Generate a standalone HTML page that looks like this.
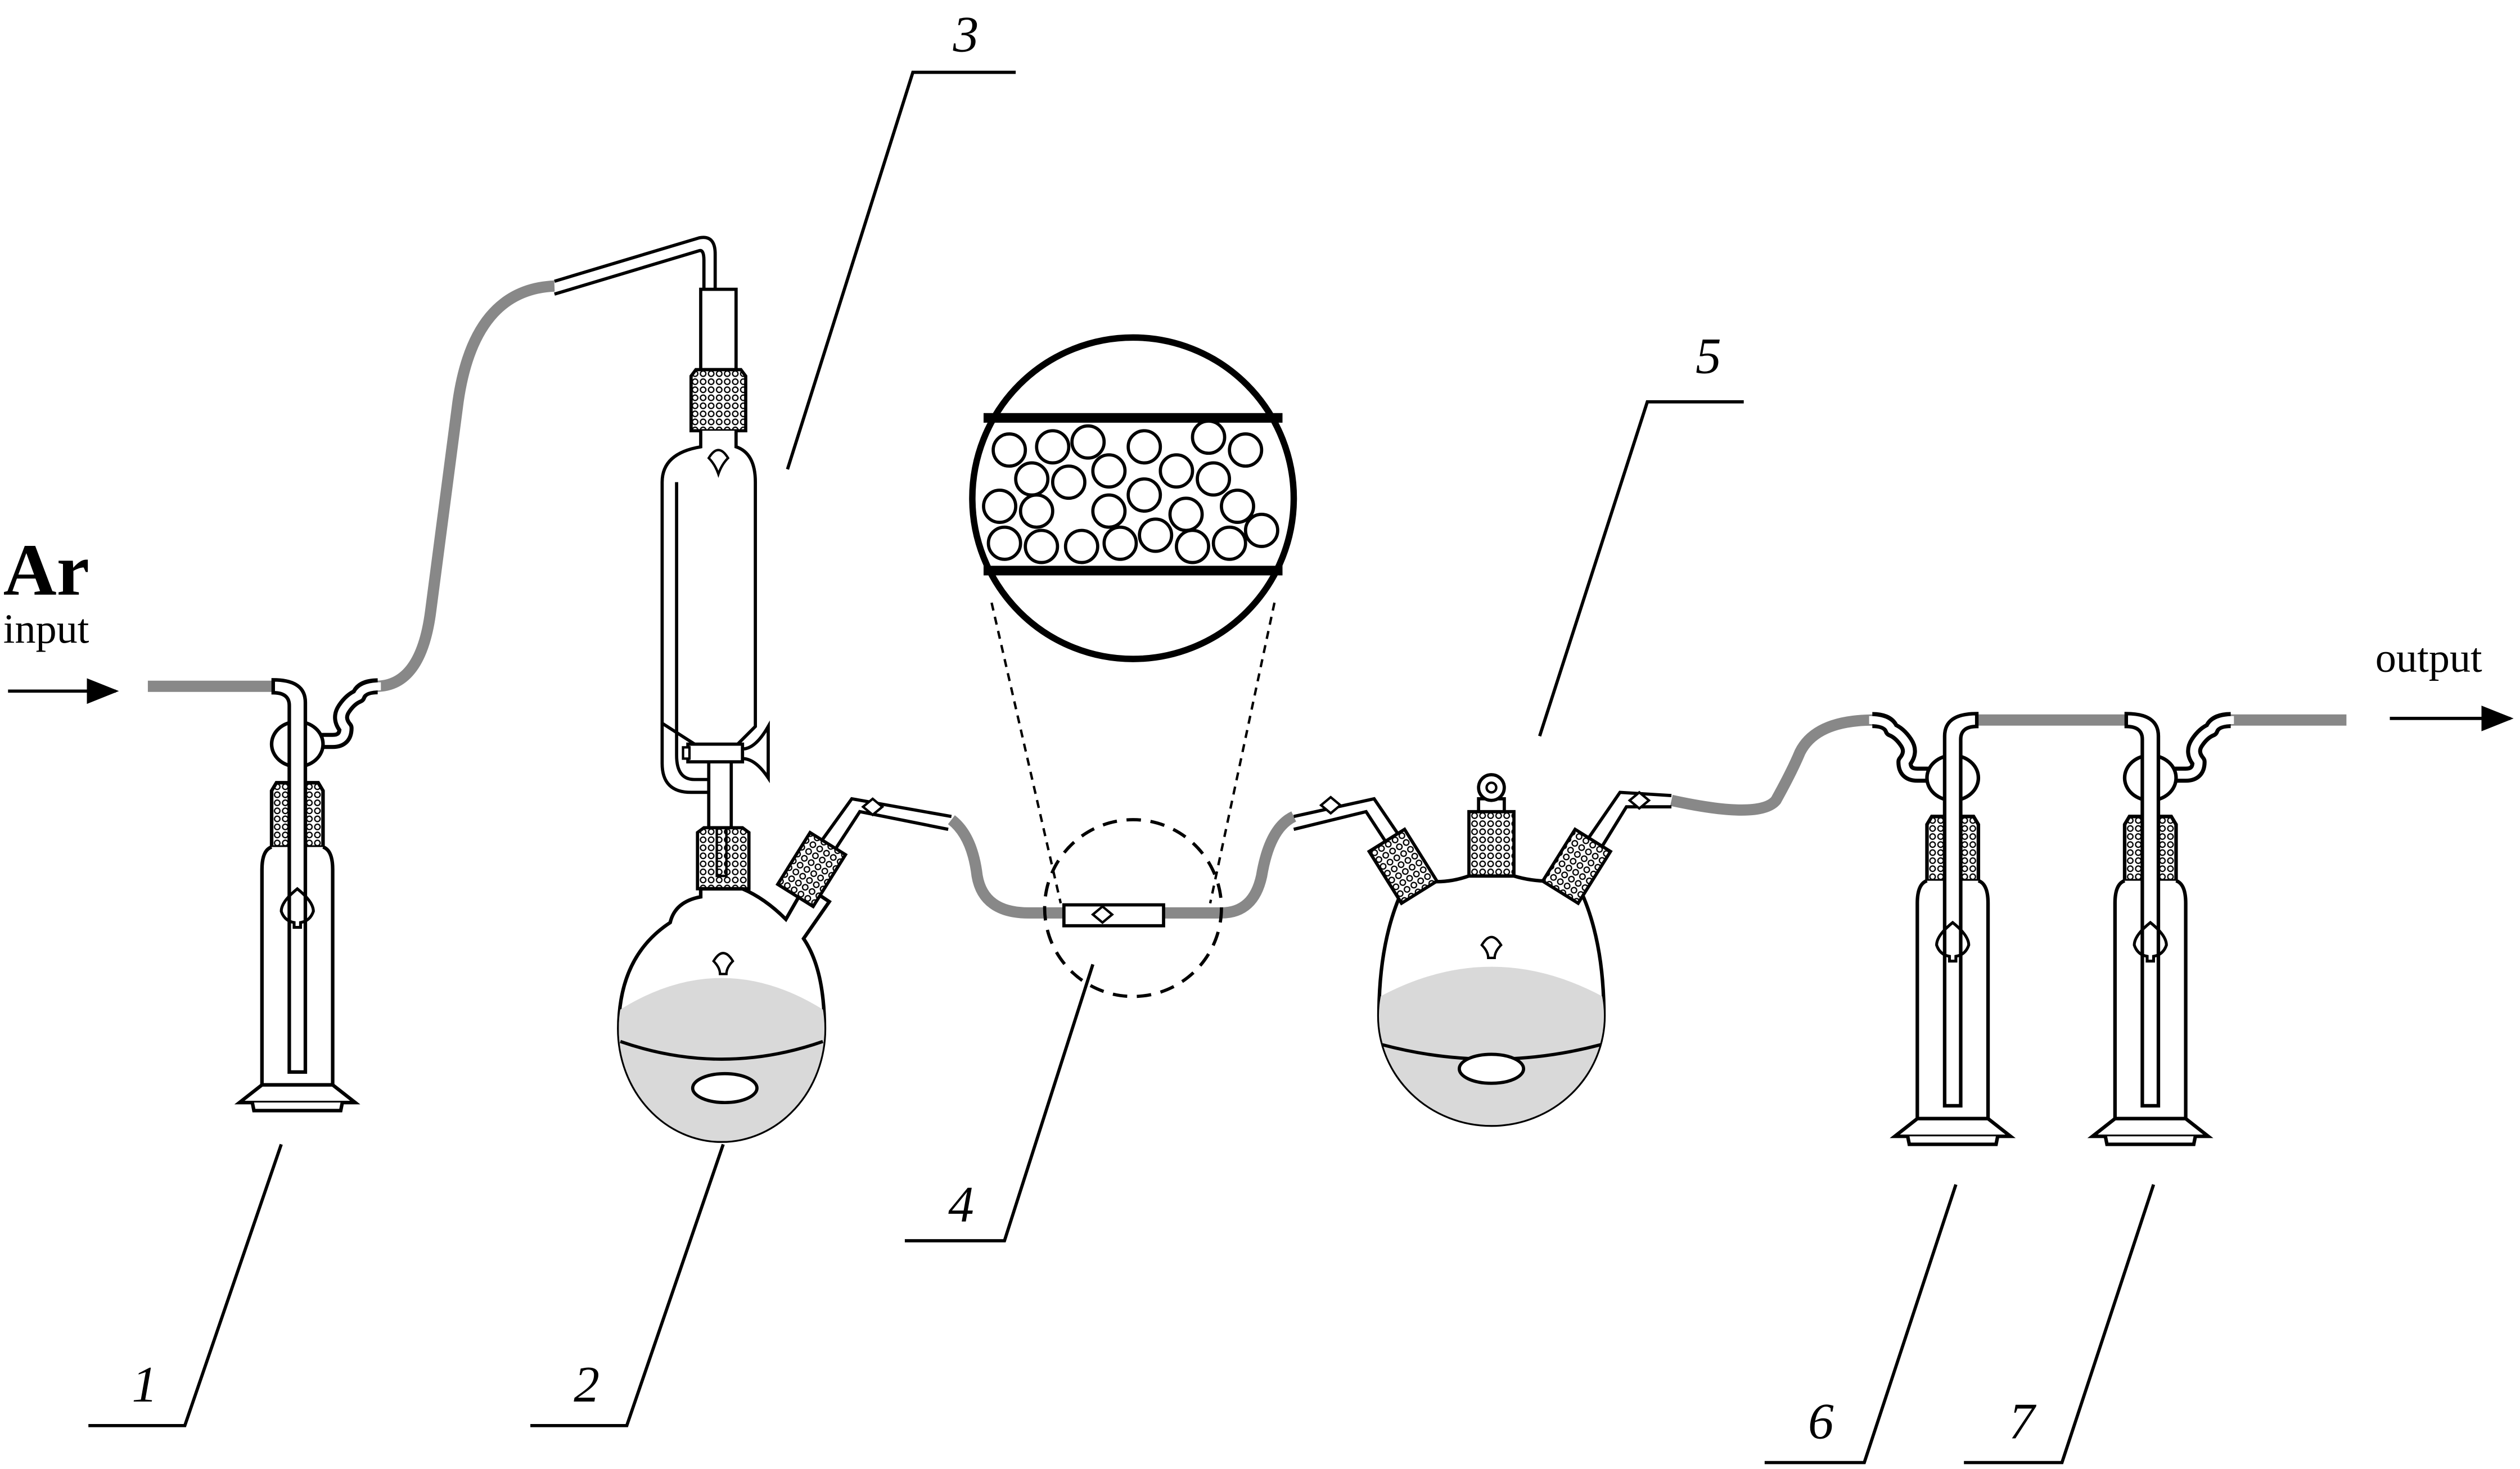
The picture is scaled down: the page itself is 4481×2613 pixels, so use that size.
<!DOCTYPE html>
<html><head><meta charset="utf-8"><style>
html,body{margin:0;padding:0;background:#fff;}
svg{display:block;width:4481px;height:2613px;}
text{font-family:"Liberation Serif",serif;}
</style></head><body>
<svg viewBox="0 0 1568 914" preserveAspectRatio="none" xmlns="http://www.w3.org/2000/svg">
<defs>
<pattern id="mesh" width="5" height="5" patternUnits="userSpaceOnUse"><rect width="5" height="5" fill="#fff"/><circle cx="2.5" cy="2.5" r="1.7" fill="none" stroke="#000" stroke-width="0.8"/></pattern>
<marker id="ar" markerWidth="10" markerHeight="8" refX="9" refY="4" orient="auto"><path d="M0,0 L10,4 L0,8 Z" fill="#000"/></marker>
<g id="bub">
 <!-- side arm (glass tube) -->
 <path d="M8,34 L22,34 Q30,34 30,26 Q25,20 29,14 Q33,8 38,6 Q40,0 50,0" fill="none" stroke="#000" stroke-width="10" stroke-linejoin="round"/>
 <path d="M8,34 L22,34 Q30,34 30,26 Q25,20 29,14 Q33,8 38,6 Q40,0 52,0" fill="none" stroke="#fff" stroke-width="5" stroke-linejoin="round"/>
 <!-- bulb -->
 <ellipse cx="0" cy="36" rx="16" ry="14" fill="#fff" stroke="#000" stroke-width="2.2"/>
 <!-- stopper -->
 <path d="M-13,60 L13,60 L16,65 L16,100 L-16,100 L-16,65 Z" fill="url(#mesh)" stroke="#000" stroke-width="2.2"/>
 <!-- body -->
 <path d="M-16,100 Q-22,102 -22,114 L-22,248 L22,248 L22,114 Q22,102 16,100" fill="#fff" stroke="#000" stroke-width="2.2"/>
 <path d="M-22,248 L22,248 L36,259 L-36,259 Z" fill="#fff" stroke="#000" stroke-width="2.2"/>
 <path d="M-28,259 L-27,264 L27,264 L28,259" fill="#fff" stroke="#000" stroke-width="2.2"/>
 <!-- inlet tube -->
 <path d="M-5,240 L-5,12 Q-5,4 -15,4 L-15,-4 Q5,-4 5,10 L5,240 Z" fill="#fff" stroke="#000" stroke-width="2.2"/>
 <!-- marker -->
 <path d="M-10,140 Q-10,134 0,126 Q10,134 10,140 Q8,146 2,147 L2,150 L-2,150 L-2,147 Q-8,146 -10,140 Z" fill="none" stroke="#000" stroke-width="1.8"/>
</g>
<clipPath id="f2"><path d="M385,640 A64,70 0 0 0 513,640 A64,70 0 0 0 385,640 Z"/></clipPath>
<clipPath id="f5"><path d="M858,632 A70,68 0 0 0 998,632 A70,68 0 0 0 858,632 Z"/></clipPath>
</defs>
<rect width="1568" height="914" fill="#fff"/>

<!-- Ar input -->
<text x="2" y="370" font-size="46" font-weight="bold">Ar</text>
<text x="2" y="400" font-size="26">input</text>
<line x1="5" y1="430" x2="72" y2="430" stroke="#000" stroke-width="2" marker-end="url(#ar)"/>
<text x="1478" y="418" font-size="26">output</text>
<line x1="1487" y1="447" x2="1562" y2="447" stroke="#000" stroke-width="2" marker-end="url(#ar)"/>

<!-- gray tubing -->
<g fill="none" stroke="#888" stroke-width="7">
 <path d="M92,427 L171,427"/>
 <path d="M234,427 Q262,427 268,380 L285,250 Q295,180 345,178"/>
 <path d="M592,510 Q605,520 608,545 Q612,568 640,568 L760,568 Q780,568 785,545 Q790,515 805,508"/>
 <path d="M1040,498 Q1095,510 1105,498 Q1115,480 1120,468 Q1130,448 1166,448"/>
 <path d="M1229,448 L1324,448"/>
 <path d="M1387,448 L1460,448"/>
</g>

<!-- bubblers -->
<use href="#bub" transform="translate(185,427)"/>
<use href="#bub" transform="translate(1215,448) scale(-1,1)"/>
<use href="#bub" transform="translate(1338,448)"/>

<!-- glass tube to funnel -->
<path d="M345,175 L435,148 Q445,146 445,158 L445,180 M345,183 L435,156 Q438,155 438,162 L438,180" fill="none" stroke="#000" stroke-width="2"/>
<!-- funnel 3 -->
<rect x="436" y="180" width="22" height="50" fill="#fff" stroke="#000" stroke-width="2"/>
<path d="M433,230 L461,230 L464,234 L464,268 L430,268 L430,234 Z" fill="url(#mesh)" stroke="#000" stroke-width="2"/>
<path d="M436,268 L436,278 Q412,282 412,300 L412,450 L440,468 L454,468 L470,452 L470,300 Q470,282 458,278 L458,268" fill="#fff" stroke="#000" stroke-width="2"/>
<path d="M421,300 L421,470 Q421,485 432,485 L441,485 M412,450 L412,475 Q412,493 430,493 L441,493" fill="none" stroke="#000" stroke-width="2"/>
<path d="M441,285 Q447,275 453,285 Q449,289 447,295 Q445,289 441,285 Z" fill="#fff" stroke="#000" stroke-width="1.5"/>
<rect x="441" y="468" width="14" height="47" fill="#fff" stroke="#000" stroke-width="2"/>
<rect x="428" y="463" width="34" height="11" fill="#fff" stroke="#000" stroke-width="2"/>
<rect x="425" y="465" width="4" height="7" fill="#fff" stroke="#000" stroke-width="1.5"/>
<path d="M462,466 Q470,466 478,452 L478,484 Q470,472 462,472 Z" fill="#fff" stroke="#000" stroke-width="2"/>
<path d="M434,518 L438,515 L462,515 L466,518 L466,553 L434,553 Z" fill="url(#mesh)" stroke="#000" stroke-width="2"/>
<path d="M446,515 L446,545 L452,545 L452,515" fill="none" stroke="#000" stroke-width="1.5"/>

<!-- flask 2 -->
<path d="M436,553 L436,558 Q420,561 417,574 Q385,595 385,640 A64,70 0 0 0 513,640 Q513,603 500,584 L516,561 L501,551 L489,572 Q476,559 462,553 Z" fill="#fff" stroke="#000" stroke-width="2.2"/>
<g clip-path="url(#f2)">
 <path d="M380,632 Q449,585 518,632 L518,715 L380,715 Z" fill="#d9d9d9"/>
</g>
<path d="M386,648 Q449,670 512,648" fill="none" stroke="#000" stroke-width="2"/>
<ellipse cx="451" cy="677" rx="20" ry="9" fill="#fff" stroke="#000" stroke-width="2"/>
<path d="M444,598 Q450,588 456,598 Q452,602 452,606 L448,606 Q448,602 444,598 Z" fill="#fff" stroke="#000" stroke-width="1.5"/>
<path d="M512,522 L530,497 L592,508 M520,528 L535,505 L590,516" fill="none" stroke="#000" stroke-width="2"/>
<rect x="492" y="522" width="26" height="38" transform="rotate(32 505 541)" fill="url(#mesh)" stroke="#000" stroke-width="2"/>
<path d="M543,497 L549,502 L543,507 L537,502 Z" fill="#fff" stroke="#000" stroke-width="1.5"/>

<!-- flask 5 -->
<path d="M805,508 L855,497 L872,522 M805,516 L850,505 L865,528" fill="none" stroke="#000" stroke-width="2"/>
<path d="M828,496 L834,501 L828,506 L822,501 Z" fill="#fff" stroke="#000" stroke-width="1.5"/>
<path d="M873,553 Q858,585 858,632 A70,68 0 0 0 998,632 Q998,585 983,553 L970,548 Q955,549 942,545 L914,545 Q900,550 886,548 Z" fill="#fff" stroke="#000" stroke-width="2.2"/>
<g clip-path="url(#f5)">
 <path d="M850,625 Q928,578 1006,625 L1006,705 L850,705 Z" fill="#d9d9d9"/>
</g>
<path d="M860,650 Q928,668 996,650" fill="none" stroke="#000" stroke-width="2"/>
<ellipse cx="928" cy="665" rx="20" ry="9" fill="#fff" stroke="#000" stroke-width="2"/>
<path d="M922,588 Q928,578 934,588 Q930,592 930,596 L926,596 Q926,592 922,588 Z" fill="#fff" stroke="#000" stroke-width="1.5"/>
<rect x="860" y="520" width="26" height="38" transform="rotate(-32 873 539)" fill="url(#mesh)" stroke="#000" stroke-width="2"/>
<rect x="914" y="505" width="28" height="40" fill="url(#mesh)" stroke="#000" stroke-width="2"/>
<rect x="920" y="497" width="16" height="8" fill="#fff" stroke="#000" stroke-width="2"/>
<circle cx="928" cy="490" r="8" fill="#fff" stroke="#000" stroke-width="2"/>
<circle cx="928" cy="490" r="3" fill="#fff" stroke="#000" stroke-width="1.5"/>
<path d="M988,522 L1008,493 L1040,495 M996,528 L1012,502 L1040,502" fill="none" stroke="#000" stroke-width="2"/>
<rect x="968" y="520" width="26" height="38" transform="rotate(32 981 539)" fill="url(#mesh)" stroke="#000" stroke-width="2"/>
<path d="M1020,493 L1026,498 L1020,503 L1014,498 Z" fill="#fff" stroke="#000" stroke-width="1.5"/>

<!-- tube section 4 -->
<rect x="662" y="563" width="62" height="13" fill="#fff" stroke="#000" stroke-width="2"/>
<path d="M680,569 L686,564 L692,569 L686,574 Z" fill="#fff" stroke="#000" stroke-width="1.5"/>
<circle cx="705" cy="565" r="55" fill="none" stroke="#000" stroke-width="2" stroke-dasharray="9,6"/>
<line x1="617" y1="375" x2="660" y2="562" stroke="#000" stroke-width="1.5" stroke-dasharray="5,4"/>
<line x1="793" y1="375" x2="753" y2="562" stroke="#000" stroke-width="1.5" stroke-dasharray="5,4"/>

<!-- inset -->
<circle cx="705" cy="310" r="100" fill="#fff" stroke="#000" stroke-width="4"/>
<line x1="612" y1="260" x2="798" y2="260" stroke="#000" stroke-width="6"/>
<line x1="612" y1="355" x2="798" y2="355" stroke="#000" stroke-width="6"/>
<g fill="#fff" stroke="#000" stroke-width="2">
<circle cx="628" cy="280" r="10"/><circle cx="655" cy="278" r="10"/><circle cx="677" cy="275" r="10"/><circle cx="712" cy="278" r="10"/><circle cx="752" cy="272" r="10"/><circle cx="775" cy="280" r="10"/>
<circle cx="642" cy="298" r="10"/><circle cx="665" cy="300" r="10"/><circle cx="690" cy="293" r="10"/><circle cx="732" cy="293" r="10"/><circle cx="755" cy="298" r="10"/>
<circle cx="622" cy="315" r="10"/><circle cx="645" cy="318" r="10"/><circle cx="690" cy="318" r="10"/><circle cx="712" cy="308" r="10"/><circle cx="738" cy="320" r="10"/><circle cx="770" cy="315" r="10"/>
<circle cx="625" cy="338" r="10"/><circle cx="648" cy="340" r="10"/><circle cx="673" cy="340" r="10"/><circle cx="697" cy="338" r="10"/><circle cx="719" cy="333" r="10"/><circle cx="742" cy="340" r="10"/><circle cx="765" cy="338" r="10"/><circle cx="785" cy="330" r="10"/>
</g>

<!-- labels -->
<g stroke="#000" stroke-width="2" fill="none">
 <path d="M632,45 L568,45 L490,292"/>
 <path d="M1085,250 L1025,250 L958,458"/>
 <path d="M563,772 L625,772 L680,600"/>
 <path d="M55,887 L115,887 L175,712"/>
 <path d="M330,887 L390,887 L450,712"/>
 <path d="M1098,910 L1160,910 L1217,737"/>
 <path d="M1222,910 L1283,910 L1340,737"/>
</g>
<g font-size="32" font-style="italic">
 <text x="593" y="32">3</text>
 <text x="1055" y="232">5</text>
 <text x="590" y="760">4</text>
 <text x="82" y="872">1</text>
 <text x="357" y="872">2</text>
 <text x="1125" y="895">6</text>
 <text x="1250" y="895">7</text>
</g>
</svg>
</body></html>
